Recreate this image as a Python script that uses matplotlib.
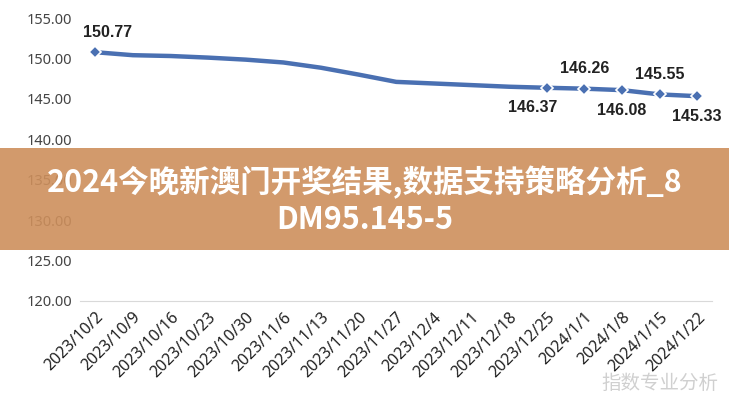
import matplotlib.pyplot as plt
from matplotlib.patches import Rectangle

plt.rcParams['font.family'] = ['Noto Sans', 'Noto Sans CJK SC', 'DejaVu Sans']

dates = ["2023/10/2", "2023/10/9", "2023/10/16", "2023/10/23", "2023/10/30",
         "2023/11/6", "2023/11/13", "2023/11/20", "2023/11/27", "2023/12/4",
         "2023/12/11", "2023/12/18", "2023/12/25", "2024/1/1", "2024/1/8",
         "2024/1/15", "2024/1/22"]
values = [150.77, 150.4, 150.3, 150.1, 149.85, 149.5, 148.85, 148.0, 147.1,
          146.9, 146.7, 146.5, 146.37, 146.26, 146.08, 145.55, 145.33]
marked = [0, 12, 13, 14, 15, 16]
above = [0, 13, 15]
banner_lines = ["2024今晚新澳门开奖结果,数据支持策略分析_8", "DM95.145-5"]
watermark = "指数专业分析"

fig = plt.figure(figsize=(7.29, 4), dpi=100)
ax = fig.add_axes([0.11, 0.2475, 0.867, 0.7075])

xs = list(range(len(dates)))
ax.plot(xs, values, color="#4a70b2", lw=3.2, solid_capstyle="round", zorder=2)
ax.plot([xs[i] for i in marked], [values[i] for i in marked], "D", ms=6,
        color="#4a70b2", mec="white", mew=1.2, zorder=3)

# small sideways nudges, as in the original labels
nudge = {0: 9, 12: -10}
for i in marked:
    dx = nudge.get(i, 0)
    if i in above:
        ax.annotate(f"{values[i]:.2f}", (xs[i], values[i]), xytext=(dx, 9),
                    textcoords="offset points", ha="center", va="bottom",
                    fontsize=11.5, fontweight="bold", color="#222222",
                    family="Liberation Sans")
    else:
        ax.annotate(f"{values[i]:.2f}", (xs[i], values[i]), xytext=(dx, -9),
                    textcoords="offset points", ha="center", va="top",
                    fontsize=11.5, fontweight="bold", color="#222222",
                    family="Liberation Sans")

for s in ["top", "right", "left"]:
    ax.spines[s].set_visible(False)
ax.spines["bottom"].set_color("#d9d9d9")

ax.set_ylim(120, 155)
ax.set_yticks(range(120, 156, 5))
ax.set_yticklabels([f"{v:.2f}" for v in range(120, 156, 5)], fontsize=10.5, color="#444444")
ax.set_xlim(-0.4, len(dates) - 0.6)
ax.set_xticks(xs)
ax.set_xticklabels(dates, rotation=45, ha="right", rotation_mode="anchor",
                   fontsize=11.5, color="#222222")
ax.tick_params(length=0, pad=6)

# overlay banner
fig.patches.append(Rectangle((0, 0.375), 1, 0.255, transform=fig.transFigure,
                             facecolor="#cd8f5c", alpha=0.9, zorder=10))
fig.text(0.5, 0.543, banner_lines[0], ha="center", va="center", color="white",
         fontsize=22, fontweight="heavy", family=["Noto Sans CJK SC", "DejaVu Sans"], zorder=11)
fig.text(0.5, 0.45, banner_lines[1], ha="center", va="center", color="white",
         fontsize=22, fontweight="heavy", family=["Noto Sans CJK SC", "DejaVu Sans"], zorder=11)

fig.text(0.985, 0.042, watermark, ha="right", va="center", color="#d0d0d0",
         fontsize=14, family=["Noto Sans CJK SC"], zorder=11)

fig.savefig("out.png", dpi=100)
